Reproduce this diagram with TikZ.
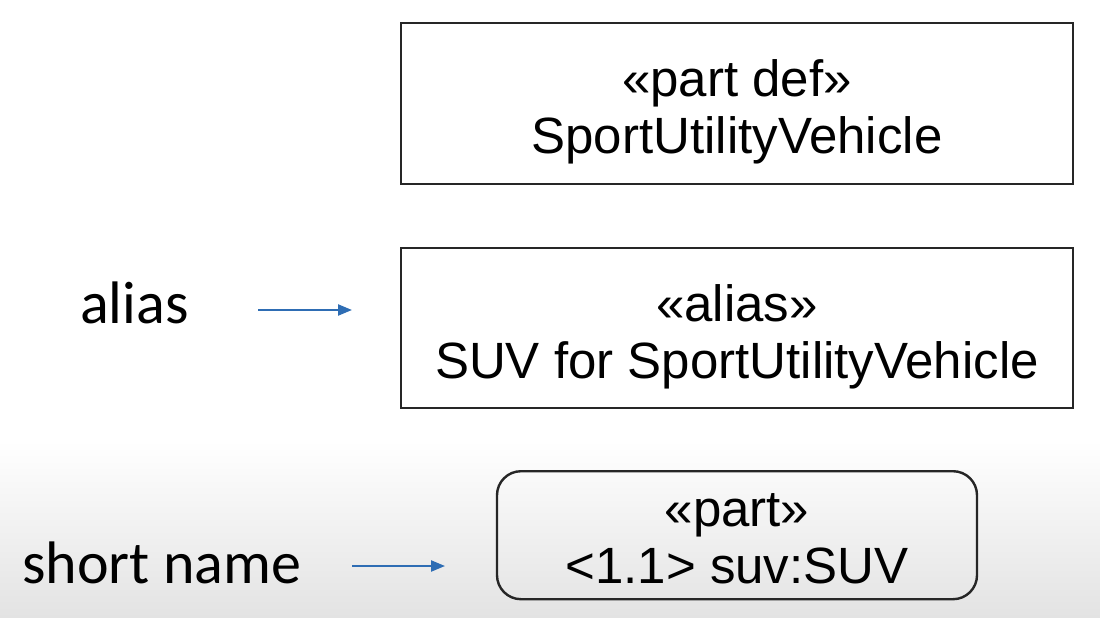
\documentclass[tikz,border=0pt]{standalone}
\usepackage{fontspec}
\setmainfont{Liberation Sans}
\newfontfamily\labelfont{Carlito}
\usetikzlibrary{positioning,arrows.meta}

\tikzset{
  umlbox/.style={draw=black!85, line width=2.4pt, inner sep=0pt, align=center, anchor=north,
    font=\fontsize{51}{57}\selectfont},
  sidelabel/.style={inner sep=0pt, anchor=base west, font=\labelfont\fontsize{60}{66}\selectfont},
  pointer/.style={-{Triangle[length=14pt,width=11pt]}, line width=2.2pt, draw={rgb,255:red,46;green,109;blue,180}}
}

\begin{document}
\begin{tikzpicture}[x=1pt, y=-1pt]
				\useasboundingbox (0,0) rectangle (1100,618);
				\shade[top color=white, bottom color=black!11] (0,440) rectangle (1100,618);
				\fill[white] (0,0) rectangle (1100,440);
				\node[umlbox, minimum width=672pt, text height=130pt, text depth=31pt] (partdef) at (737,22) {«part def»\\SportUtilityVehicle};
				\node[umlbox, minimum width=672pt, text height=130pt, text depth=30pt] (aliasdef) at (737,247) {«alias»\\SUV for SportUtilityVehicle};
				\node[umlbox, rounded corners=24pt, minimum width=480pt, text height=112pt, text depth=16pt] (suvpart) at (737,470) {«part»\\<1.1> suv:SUV};
				\node[sidelabel] (aliaslbl) at (80,323) {alias};
				\node[sidelabel] (shortlbl) at (22,583) {short name};
				\coordinate (aliasfrom) at (258,310);
				\coordinate (aliasto) at (352,310);
				\coordinate (shortfrom) at (352,566);
				\coordinate (shortto) at (445,566);
				\draw[pointer] (aliasfrom) -- (aliasto);
				\draw[pointer] (shortfrom) -- (shortto);
			\end{tikzpicture}
\end{document}
